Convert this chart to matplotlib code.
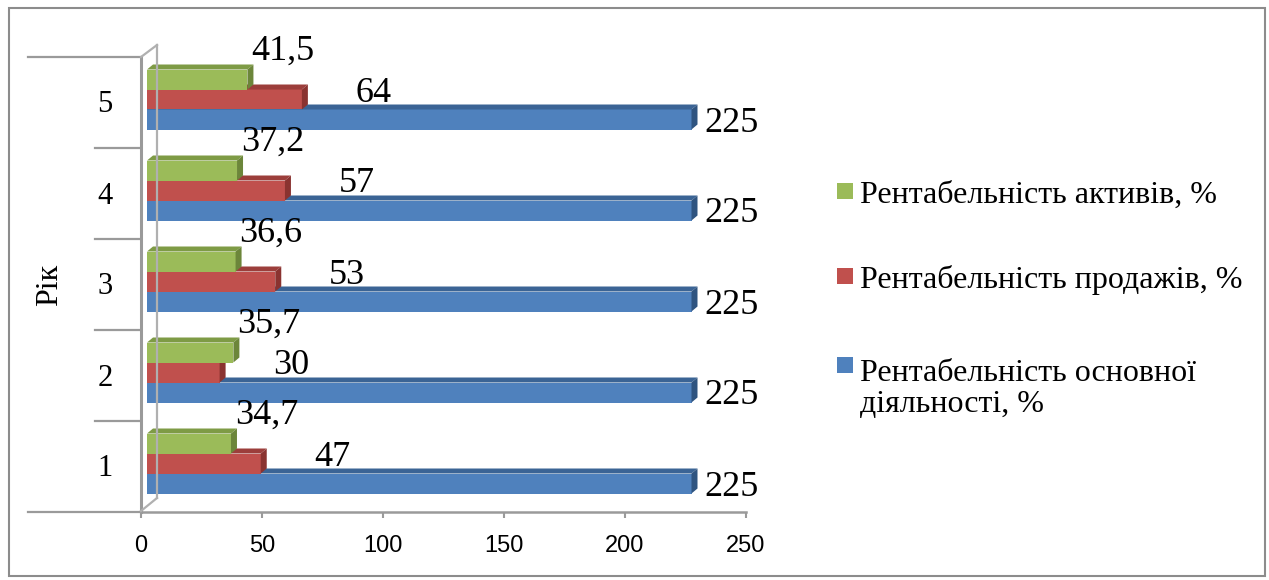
import matplotlib
matplotlib.use("Agg")
import matplotlib.pyplot as plt
from matplotlib.transforms import ScaledTranslation, blended_transform_factory
from matplotlib.patches import Polygon, Rectangle
from matplotlib.lines import Line2D

# ---------------- data ----------------
years = [1, 2, 3, 4, 5]
year_labels = ["1", "2", "3", "4", "5"]
axis_title = "Рік"
name_core = "Рентабельність основної\nдіяльності, %"
name_sales = "Рентабельність продажів, %"
name_assets = "Рентабельність активів, %"
core_activity = [225, 225, 225, 225, 225]
sales = [47, 30, 53, 57, 64]
assets = [34.7, 35.7, 36.6, 37.2, 41.5]
xticks = [0, 50, 100, 150, 200, 250]

# ---------------- style ----------------
W, H, DPI = 1269, 580, 100
SERIF = ["Liberation Serif", "DejaVu Serif"]
SANS = ["Liberation Sans", "DejaVu Sans"]
col_blue = ("#4F81BD", "#3B6495", "#2F5480")
col_red = ("#C0504D", "#9C3E3B", "#8A3330")
col_green = ("#9BBB59", "#7E9B45", "#6C863A")
GRAY = "#9A9A9A"


def fx(x):
    return x / W


def fy(y):
    return 1 - y / H


def pt(px):
    return px * 72.0 / DPI


fig = plt.figure(figsize=(W / DPI, H / DPI), dpi=DPI)
AX_L, AX_R, AX_T, AX_B = 141, 746, 57, 512
ax = fig.add_axes([fx(AX_L), fy(AX_B), (AX_R - AX_L) / W, (AX_B - AX_T) / H])
ax.set_xlim(0, 250)
ax.set_ylim(0.5, 5.5)

px_per_x = (AX_R - AX_L) / 250.0
px_per_y = (AX_B - AX_T) / 5.0

# front face offset (bars sit in the middle of the 3D depth)
front = ax.transData + ScaledTranslation(6 / DPI, 3 / DPI, fig.dpi_scale_trans)
ddx = 6 / px_per_x
ddy = 5 / px_per_y
bar_h = 20 / px_per_y


def bar3d(ypos, vals, cols, z):
    bars = ax.barh(ypos, vals, height=bar_h, color=cols[0], edgecolor="none",
                   transform=front, zorder=z)
    for r in bars:
        x0, y0, bw, bh = r.get_x(), r.get_y(), r.get_width(), r.get_height()
        top = [(x0, y0 + bh), (x0 + bw, y0 + bh),
               (x0 + bw + ddx, y0 + bh + ddy), (x0 + ddx, y0 + bh + ddy)]
        side = [(x0 + bw, y0), (x0 + bw + ddx, y0 + ddy),
                (x0 + bw + ddx, y0 + bh + ddy), (x0 + bw, y0 + bh)]
        ax.add_patch(Polygon(top, closed=True, facecolor=cols[1], edgecolor="none",
                             transform=front, zorder=z))
        ax.add_patch(Polygon(side, closed=True, facecolor=cols[2], edgecolor="none",
                             transform=front, zorder=z))
    return bars


y_blue = [y - bar_h for y in years]
y_red = list(years)
y_green = [y + bar_h for y in years]

bar3d(y_blue, core_activity, col_blue, 2)
bar3d(y_red, sales, col_red, 3)
bar3d(y_green, assets, col_green, 4)


def fmt(v):
    return f"{v:g}".replace(".", ",")


LBL = dict(fontsize=26, family=SERIF, color="black", zorder=6)
for y, v in zip(y_blue, core_activity):
    ax.annotate(fmt(v), xy=(v, y), xycoords=front, xytext=(pt(13), pt(-12)),
                textcoords="offset points", ha="left", va="baseline", **LBL)
for y, v in zip(y_red, sales):
    ax.annotate(fmt(v), xy=(v, y), xycoords=front, xytext=(pt(72), pt(-2)),
                textcoords="offset points", ha="center", va="baseline", **LBL)
for y, v in zip(y_green, assets):
    ax.annotate(fmt(v), xy=(v, y), xycoords=front, xytext=(pt(4), pt(20)),
                textcoords="offset points", ha="left", va="baseline", **LBL)

# ---------------- axes decoration ----------------
for s in ("top", "right"):
    ax.spines[s].set_visible(False)
ax.spines["left"].set_color(GRAY)
ax.spines["left"].set_linewidth(2.2)
ax.spines["bottom"].set_color(GRAY)
ax.spines["bottom"].set_linewidth(1.8)
ax.set_yticks([])
ax.set_xticks(xticks)
ax.set_xticklabels([str(t) for t in xticks], family=SANS, fontsize=17)
ax.tick_params(axis="x", direction="out", length=pt(6), width=1.5, color=GRAY,
               pad=pt(17))

blend = blended_transform_factory(ax.transAxes, ax.transData)
inner_x = (95 - AX_L) / (AX_R - AX_L)
outer_x = (28 - AX_L) / (AX_R - AX_L)
bounds = [y - 0.5 for y in years] + [years[-1] + 0.5]
for i, b in enumerate(bounds):
    x_start = outer_x if i in (0, len(bounds) - 1) else inner_x
    ax.add_line(Line2D([x_start, 0], [b, b], transform=blend, color=GRAY, lw=1.6,
                       clip_on=False))

for y, lab in zip(years, year_labels):
    ax.annotate(lab, xy=((105 - AX_L) / (AX_R - AX_L), y), xycoords=blend,
                xytext=(0, pt(-10)), textcoords="offset points", ha="center",
                va="baseline", fontsize=22, family=SERIF, annotation_clip=False)

ax.text((50 - AX_L) / (AX_R - AX_L), 3, axis_title, transform=blend, rotation=90,
        ha="center", va="center", fontsize=23, family=SERIF)

# back wall of 3D frame
wall = [((141, 57), (157, 45)), ((157, 45), (157, 498)), ((141, 511), (157, 498))]
for (x1, y1), (x2, y2) in wall:
    fig.add_artist(Line2D([fx(x1), fx(x2)], [fy(y1), fy(y2)], transform=fig.transFigure,
                          color="#B0B0B0", lw=1.6, zorder=1))

# ---------------- legend ----------------
LINE_PX = 35
leg_items = [(name_assets, col_green[0], 203), (name_sales, col_red[0], 288),
             (name_core, col_blue[0], 377)]
for text, c, base in leg_items:
    fig.add_artist(Rectangle((fx(837), fy(base - 4)), 16 / W, 16 / H,
                             transform=fig.transFigure, facecolor=c, edgecolor="none"))
    last_base = base + LINE_PX * text.count("\n")
    fig.text(fx(860), fy(last_base), text, ha="left", va="baseline", fontsize=23,
             family=SERIF, linespacing=1.1)

# outer border
fig.add_artist(Rectangle((fx(9), fy(576)), (1265 - 9) / W, (576 - 8) / H,
                         transform=fig.transFigure, fill=False, edgecolor="#8C8C8C",
                         lw=1.5))

fig.savefig("out.png", dpi=DPI)
